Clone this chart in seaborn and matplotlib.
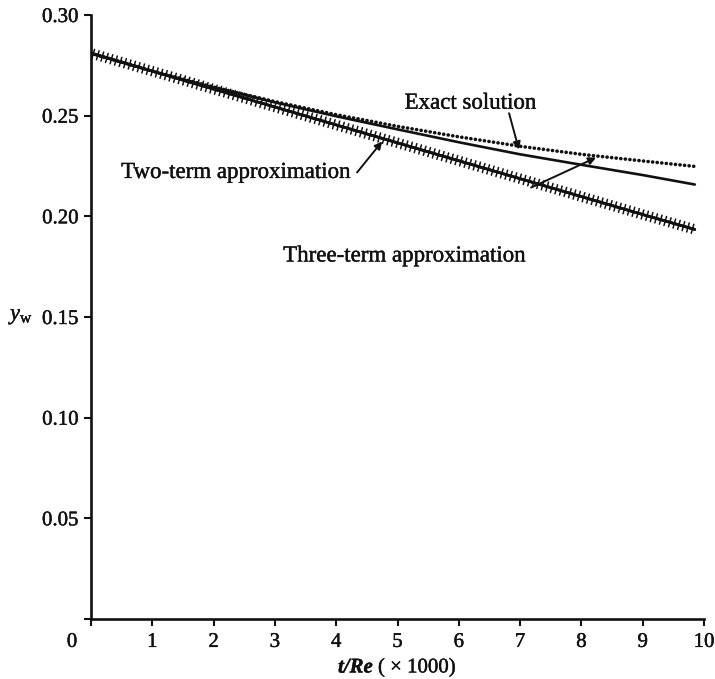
import numpy as np
import pandas as pd
import matplotlib
matplotlib.use("Agg")
import matplotlib.pyplot as plt
import matplotlib.patheffects as pe
import matplotlib.transforms as mtransforms
import seaborn as sns

# Wall position y_w against t/Re (x 1000)
t_re = [0, 1, 2, 3, 4, 5, 6, 7, 8, 9, 9.85]
exact = [0.281, 0.2722, 0.2642, 0.2570, 0.2505, 0.2447, 0.2395, 0.2348, 0.2308, 0.2275, 0.2248]
two_term = [0.281, 0.2721, 0.2640, 0.2566, 0.2497, 0.2432, 0.2368, 0.2308, 0.2256, 0.2205, 0.2158]
three_term = [0.281, 0.2721, 0.2632, 0.2543, 0.2454, 0.2365, 0.2276, 0.2187, 0.2098, 0.2009, 0.1935]

x_ticks = [0, 1, 2, 3, 4, 5, 6, 7, 8, 9, 10]
y_ticks = [0.05, 0.10, 0.15, 0.20, 0.25, 0.30]

df = pd.DataFrame({"t": t_re, "exact": exact, "two": two_term, "three": three_term})

sns.set_theme(style="ticks")
plt.rcParams["font.family"] = ["Liberation Serif", "DejaVu Serif"]
plt.rcParams["mathtext.fontset"] = "custom"
plt.rcParams["mathtext.rm"] = "Liberation Serif"
plt.rcParams["mathtext.it"] = "Liberation Serif:italic"
plt.rcParams["mathtext.bf"] = "Liberation Serif:bold:italic"
plt.rcParams["lines.scale_dashes"] = False

fig = plt.figure(figsize=(7.15, 6.79), dpi=100)
ax = fig.add_axes([91 / 715, 60 / 679, 613 / 715, 604 / 679])

ink = "#111111"
heavy = [pe.withStroke(linewidth=0.3, foreground=ink)]

# two-term approximation: plain solid line
sns.lineplot(data=df, x="t", y="two", ax=ax, color=ink, lw=1.9)
# exact solution: round dots
sns.lineplot(data=df, x="t", y="exact", ax=ax, color=ink, lw=2.6)
ax.lines[-1].set_linestyle((0, (0.1, 3.2)))
ax.lines[-1].set_dash_capstyle("round")
# three-term approximation: line crossed by short ticks
sns.lineplot(data=df, x="t", y="three", ax=ax, color=ink, lw=1.9)
ax.lines[-1].set_path_effects([
    pe.withTickedStroke(angle=90, spacing=3.4, length=1.0, linewidth=1.1, foreground=ink),
    pe.withTickedStroke(angle=-90, spacing=3.4, length=1.0, linewidth=1.1, foreground=ink),
    pe.Normal(),
])

ax.set_xlim(0, 10)
ax.set_ylim(0, 0.30)
ax.set_xticks(x_ticks)
ax.set_xticklabels([str(v) for v in x_ticks])
ax.set_yticks([0] + y_ticks)
ax.set_yticklabels([""] + [f"{v:.2f}" for v in y_ticks])

for side in ("top", "right"):
    ax.spines[side].set_visible(False)
for side in ("left", "bottom"):
    ax.spines[side].set_linewidth(1.9)
    ax.spines[side].set_color(ink)

ax.tick_params(axis="both", direction="out", width=1.5, length=5, color=ink,
               labelsize=15, labelcolor=ink)
ax.tick_params(axis="x", pad=5)
ax.tick_params(axis="y", pad=4)

for lbl in ax.get_xticklabels() + ax.get_yticklabels():
    lbl.set_path_effects(heavy)

# shift the origin label left of the corner
zero_lbl = ax.get_xticklabels()[0]
zero_lbl.set_transform(zero_lbl.get_transform() +
                       mtransforms.ScaledTranslation(-19 / 100, 0, fig.dpi_scale_trans))

ax.set_xlabel(r"$\mathbf{t/Re}$ ( $\times$ 1000)", fontsize=15, color=ink, labelpad=3)
ax.xaxis.label.set_path_effects(heavy)
ax.set_ylabel(r"$y_{\rm w}$", fontsize=16, color=ink, rotation=0, labelpad=14, va="center")
ax.yaxis.label.set_path_effects(heavy)

arrow = dict(arrowstyle="-|>", lw=1.4, color=ink, mutation_scale=11, shrinkA=0, shrinkB=0)
ax.annotate("", xy=(6.98, 0.2332), xytext=(6.82, 0.2512), arrowprops=arrow)
ax.annotate("", xy=(4.75, 0.2372), xytext=(4.34, 0.2218), arrowprops=arrow)
ax.annotate("", xy=(8.24, 0.2292), xytext=(7.18, 0.2143), arrowprops=arrow)

labels = [
    ("Exact solution", 6.19, 0.2562),
    ("Two-term approximation", 2.36, 0.2218),
    ("Three-term approximation", 5.11, 0.1803),
]
for text, lx, ly in labels:
    ax.text(lx, ly, text, fontsize=16.5, color=ink, ha="center", va="center",
            path_effects=heavy)

fig.savefig("out.png", dpi=100)
